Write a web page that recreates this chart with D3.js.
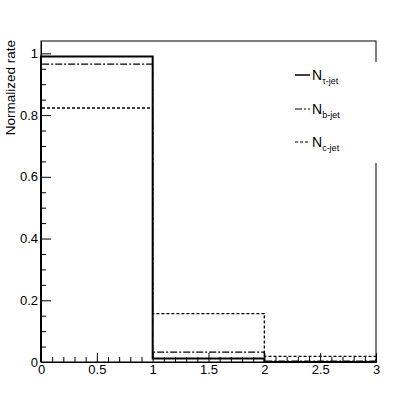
<!DOCTYPE html>
<html><head><meta charset="utf-8">
<script src="https://cdn.jsdelivr.net/npm/d3@7"></script>
<style>body{margin:0;background:#fff}svg{display:block}text{font-family:"Liberation Sans",Arial,sans-serif;fill:#000}</style>
</head><body><svg id="c" width="419" height="403"></svg>
<script>
const binEdges = [0, 1, 2, 3];
const tauJet = [0.990, 0.011, 0.0];
const bJet = [0.965, 0.032, 0.003];
const cJet = [0.823, 0.157, 0.018];
const xTicks = [0, 0.5, 1, 1.5, 2, 2.5, 3];
const yTicks = [0, 0.2, 0.4, 0.6, 0.8, 1];
const legendLabels = ["τ-jet", "b-jet", "c-jet"];

const svg = d3.select("#c");
const L = 41, R = 376, T = 41, B = 362;
const x = d3.scaleLinear().domain([0, 3]).range([L, R]);
const y = d3.scaleLinear().domain([0, 1.04]).range([B, T]);

// frame
svg.append("rect").attr("x", L).attr("y", T).attr("width", R - L).attr("height", B - T)
  .attr("fill", "none").attr("stroke", "#000").attr("stroke-width", 1);

// histograms
function stepPath(vals) {
  let pts = [[binEdges[0], 0]];
  vals.forEach((v, i) => { pts.push([binEdges[i], v]); pts.push([binEdges[i + 1], v]); });
  pts.push([binEdges[binEdges.length - 1], 0]);
  return d3.line().x(d => x(d[0])).y(d => y(d[1]))(pts);
}
const series = [
  {vals: cJet, dash: "3,2", w: 1.3},
  {vals: bJet, dash: "7,2,2,2", w: 1.3},
  {vals: tauJet, dash: null, w: 2}
];
series.forEach(s => {
  svg.append("path").attr("d", stepPath(s.vals)).attr("fill", "none")
    .attr("stroke", "#000").attr("stroke-width", s.w)
    .attr("stroke-dasharray", s.dash);
});

// axes
const fmt = d => d3.format("~g")(d);
const xMinor = d3.range(0, 3.0001, 0.1).filter(v => Math.abs(v * 2 - Math.round(v * 2)) > 1e-6);
const yMinor = d3.range(0, 1.0401, 0.05).filter(v => Math.abs(v * 5 - Math.round(v * 5)) > 1e-6);

const gx = svg.append("g").attr("transform", `translate(0,${B})`)
  .call(d3.axisBottom(x).tickValues(xTicks).tickFormat(fmt).tickSizeInner(-9).tickSizeOuter(0).tickPadding(3));
gx.append("g").call(d3.axisBottom(x).tickValues(xMinor).tickFormat("").tickSizeInner(-5).tickSizeOuter(0));
const gy = svg.append("g").attr("transform", `translate(${L},0)`)
  .call(d3.axisLeft(y).tickValues(yTicks).tickFormat(fmt).tickSizeInner(-10).tickSizeOuter(0).tickPadding(3));
gy.append("g").call(d3.axisLeft(y).tickValues(yMinor).tickFormat("").tickSizeInner(-5).tickSizeOuter(0));
svg.selectAll(".domain").attr("stroke", "#000");
svg.selectAll(".tick line").attr("stroke", "#000");
svg.selectAll(".tick text").attr("font-size", 13).attr("font-family", "Liberation Sans, Arial, sans-serif").attr("fill", "#000");
gx.selectAll(".tick text").attr("y", 3).attr("dy", "0.71em");
gy.selectAll(".tick text").attr("x", -3).attr("dy", "0.32em");

// y title
svg.append("text").attr("transform", `translate(15,${T - 1}) rotate(-90)`)
  .attr("text-anchor", "end").attr("font-size", 13.5).text("Normalized rate");

// legend
svg.append("rect").attr("x", 286).attr("y", 62).attr("width", 92).attr("height", 101).attr("fill", "#fff");
const legY = [75, 109, 142];
series.slice().reverse().forEach((s, i) => {
  svg.append("line").attr("x1", 295).attr("x2", 310).attr("y1", legY[i]).attr("y2", legY[i])
    .attr("stroke", "#000").attr("stroke-width", s.w === 2 ? 1.5 : 1.2).attr("stroke-dasharray", s.dash);
  const t = svg.append("text").attr("x", 312).attr("y", legY[i] + 5).attr("font-size", 14);
  t.append("tspan").text("N");
  t.append("tspan").attr("font-size", 9).attr("dy", 4).text(legendLabels[i]);
});
</script></body></html>
